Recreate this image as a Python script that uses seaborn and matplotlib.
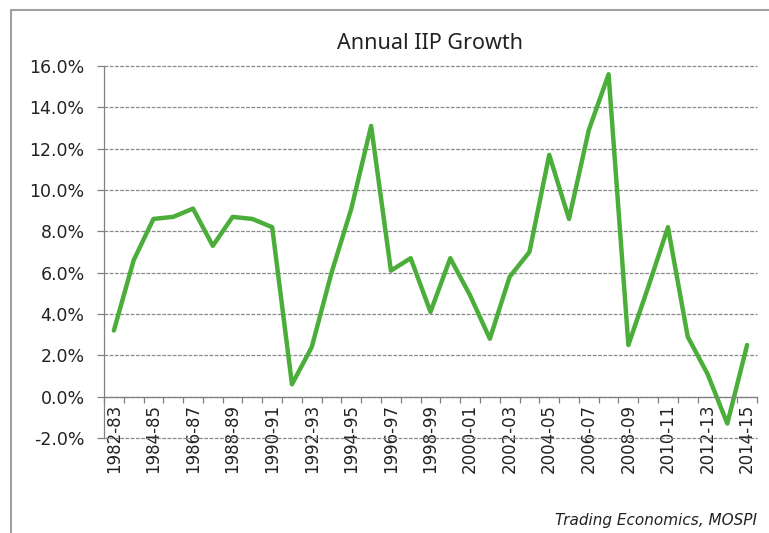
import numpy as np
import pandas as pd
import matplotlib.pyplot as plt
import matplotlib.ticker as mticker
from matplotlib.lines import Line2D
import seaborn as sns

# data
years = ['1982-83', '1983-84', '1984-85', '1985-86', '1986-87', '1987-88', '1988-89',
         '1989-90', '1990-91', '1991-92', '1992-93', '1993-94', '1994-95', '1995-96',
         '1996-97', '1997-98', '1998-99', '1999-00', '2000-01', '2001-02', '2002-03',
         '2003-04', '2004-05', '2005-06', '2006-07', '2007-08', '2008-09', '2009-10',
         '2010-11', '2011-12', '2012-13', '2013-14', '2014-15']
growth = [3.2, 6.6, 8.6, 8.7, 9.1, 7.3, 8.7, 8.6, 8.2, 0.6, 2.4, 6.0, 9.1, 13.1,
          6.1, 6.7, 4.1, 6.7, 4.9, 2.8, 5.8, 7.0, 11.7, 8.6, 12.9, 15.6, 2.5, 5.3,
          8.2, 2.9, 1.1, -1.3, 2.5]
y_ticks = [-2, 0, 2, 4, 6, 8, 10, 12, 14, 16]

df = pd.DataFrame({'year': years, 'growth': growth})
df['pos'] = np.arange(len(df))

sns.set_style('white')
plt.rcParams['font.family'] = ['DejaVu Sans']

fig = plt.figure(figsize=(7.69, 5.33), dpi=100)
ax = fig.add_axes([0.1352, 0.1782, 0.8492, 0.698])

sns.lineplot(data=df, x='pos', y='growth', color='#4cae3a', linewidth=3.2, ax=ax)

ax.set_ylim(-2, 16)
ax.set_xlim(-0.5, len(years) - 0.5)
ax.set_yticks(y_ticks)
ax.yaxis.set_major_formatter(mticker.FuncFormatter(lambda v, p: f'{v:.1f}%'))
ax.grid(axis='y', color='#8a8a8a', linestyle=(0, (3, 1.2)), linewidth=0.9)
for gl in ax.get_ygridlines():
    gl.set_clip_on(False)
ax.set_axisbelow(True)

# x axis sits at zero, ticks between categories, labels every other year
ax.spines['bottom'].set_position(('data', 0))
ax.set_xticks(np.arange(-0.5, len(years), 1.0))
ax.set_xticklabels([])
ax.set_xticks(df['pos'][::2], minor=True)
ax.set_xticklabels(df['year'][::2], minor=True, rotation=90, fontsize=12, color='#222222')
ax.tick_params(axis='x', which='major', direction='out', length=4, width=0.9, color='#808080')
ax.tick_params(axis='x', which='minor', length=0, pad=5)
ax.tick_params(axis='y', direction='out', length=5, width=0.9, color='#808080',
               labelsize=12.5, labelcolor='#222222', pad=9)
ax.tick_params(bottom=True, left=True, which='major')

for side in ['top', 'right']:
    ax.spines[side].set_visible(False)
for side in ['left', 'bottom']:
    ax.spines[side].set_color('#808080')
    ax.spines[side].set_linewidth(0.9)

ax.set_xlabel('')
ax.set_ylabel('')
ax.set_title('Annual IIP Growth', fontsize=15.5, color='#222222', pad=12,
             family=['Noto Sans', 'DejaVu Sans'])

fig.text(0.985, 0.024, 'Trading Economics, MOSPI', ha='right', va='center',
         fontsize=11, style='italic', color='#222222')

# outer frame (left and top edges only are visible in the reference)
fig.add_artist(Line2D([0.0143, 0.0143], [0.0, 0.981], transform=fig.transFigure,
                      color='#a0a0a0', linewidth=1.5))
fig.add_artist(Line2D([0.0143, 1.0], [0.981, 0.981], transform=fig.transFigure,
                      color='#a0a0a0', linewidth=1.5))

fig.savefig('out.png', dpi=100)
